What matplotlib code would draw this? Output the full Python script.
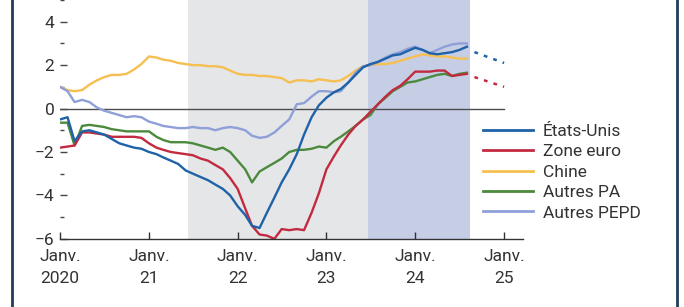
import numpy as np
import pandas as pd
import matplotlib
matplotlib.use("Agg")
import matplotlib.pyplot as plt
from matplotlib.lines import Line2D

plt.rcParams["font.family"] = ["Noto Sans Condensed", "Liberation Sans Narrow", "Roboto", "DejaVu Sans"]
plt.rcParams["font.stretch"] = "condensed"

# monthly data, Jan 2020 - Aug 2024
months = pd.date_range("2020-01-01", periods=56, freq="MS")

etats_unis = [-0.5, -0.4, -1.5, -1.05, -1.0, -1.1, -1.2, -1.4, -1.6, -1.7, -1.8, -1.85,
              -2.0, -2.1, -2.25, -2.4, -2.55, -2.85, -3.0, -3.15, -3.3, -3.5, -3.7, -4.0,
              -4.5, -4.9, -5.4, -5.5, -4.8, -4.1, -3.4, -2.8, -2.1, -1.2, -0.4, 0.15,
              0.5, 0.75, 0.9, 1.2, 1.55, 1.9, 2.05, 2.15, 2.3, 2.45, 2.5, 2.65,
              2.8, 2.7, 2.55, 2.5, 2.55, 2.6, 2.7, 2.85]
zone_euro = [-1.8, -1.75, -1.7, -1.1, -1.1, -1.15, -1.2, -1.3, -1.3, -1.3, -1.3, -1.35,
             -1.6, -1.8, -1.9, -2.0, -2.05, -2.1, -2.15, -2.3, -2.4, -2.6, -2.8, -3.2,
             -3.7, -4.6, -5.4, -5.8, -5.85, -6.0, -5.55, -5.6, -5.55, -5.6, -4.8, -3.9,
             -2.8, -2.2, -1.7, -1.2, -0.8, -0.5, -0.15, 0.2, 0.55, 0.85, 1.05, 1.35,
             1.7, 1.7, 1.7, 1.75, 1.75, 1.5, 1.55, 1.6]
chine = [1.0, 0.85, 0.8, 0.85, 1.1, 1.3, 1.45, 1.55, 1.55, 1.6, 1.8, 2.05,
         2.4, 2.35, 2.25, 2.2, 2.1, 2.05, 2.0, 2.0, 1.95, 1.95, 1.9, 1.75,
         1.6, 1.55, 1.55, 1.5, 1.5, 1.45, 1.4, 1.2, 1.3, 1.3, 1.25, 1.35,
         1.3, 1.25, 1.3, 1.5, 1.75, 1.95, 2.0, 2.05, 2.05, 2.1, 2.2, 2.3,
         2.4, 2.5, 2.45, 2.4, 2.4, 2.35, 2.3, 2.3]
autres_pa = [-0.65, -0.65, -1.7, -0.8, -0.75, -0.8, -0.85, -0.95, -1.0, -1.05, -1.05, -1.05,
             -1.05, -1.3, -1.45, -1.55, -1.55, -1.55, -1.6, -1.7, -1.8, -1.9, -1.8, -2.0,
             -2.4, -2.8, -3.4, -2.9, -2.7, -2.5, -2.3, -2.0, -1.9, -1.9, -1.85, -1.75,
             -1.8, -1.5, -1.3, -1.05, -0.8, -0.5, -0.3, 0.2, 0.5, 0.8, 1.0, 1.2,
             1.25, 1.35, 1.45, 1.55, 1.6, 1.5, 1.6, 1.65]
autres_pepd = [1.0, 0.8, 0.3, 0.4, 0.3, 0.05, -0.1, -0.2, -0.3, -0.4, -0.35, -0.4,
               -0.6, -0.7, -0.8, -0.85, -0.9, -0.9, -0.85, -0.9, -0.9, -1.0, -0.9, -0.85,
               -0.9, -1.0, -1.25, -1.35, -1.3, -1.1, -0.8, -0.5, 0.2, 0.25, 0.55, 0.8,
               0.8, 0.75, 0.8, 1.2, 1.65, 1.95, 2.0, 2.15, 2.35, 2.5, 2.6, 2.75,
               2.85, 2.7, 2.55, 2.7, 2.85, 2.95, 3.0, 3.0]

# projections
proj_dates = pd.to_datetime(["2024-09-01", "2025-01-01"])
proj_us = [2.6, 2.1]
proj_euro = [1.45, 1.0]

c_us = "#1f62a8"
c_eu = "#c22a40"
c_cn = "#f6bf52"
c_pa = "#4b8a3c"
c_pepd = "#8f9fd8"

fig = plt.figure(figsize=(6.84, 3.07), dpi=100)
ax = fig.add_axes([0.0877, 0.222, 0.677, 0.778])

# shaded periods
ax.axvspan(pd.Timestamp("2021-06-10"), pd.Timestamp("2023-06-20"), color="#e5e6e8", lw=0)
ax.axvspan(pd.Timestamp("2023-06-20"), pd.Timestamp("2024-08-15"), color="#c6cee6", lw=0)

ax.plot([pd.Timestamp("2020-01-01"), pd.Timestamp("2025-01-01")], [0, 0],
        color="#4d4d4d", lw=1.0)

ax.plot(months, chine, color=c_cn, lw=1.7, label="Chine")
ax.plot(months, autres_pepd, color=c_pepd, lw=1.7, label="Autres PEPD")
ax.plot(months, autres_pa, color=c_pa, lw=1.7, label="Autres PA")
ax.plot(months, zone_euro, color=c_eu, lw=1.7, label="Zone euro")
ax.plot(months, etats_unis, color=c_us, lw=1.7, label="États-Unis")

ax.plot(proj_dates, proj_us, color=c_us, lw=1.8, ls=(0, (1.5, 2.5)))
ax.plot(proj_dates, proj_euro, color=c_eu, lw=1.8, ls=(0, (1.5, 2.5)))

ax.set_xlim(pd.Timestamp("2020-01-01"), pd.Timestamp("2025-03-20"))
ax.set_ylim(-6, 5.0)

for s in ["top", "right", "left"]:
    ax.spines[s].set_visible(False)
ax.spines["bottom"].set_color("#333333")
ax.spines["bottom"].set_linewidth(1.0)

ax.set_yticks([-6, -4, -2, 0, 2, 4])
ax.set_yticklabels(["\u22126", "\u22124", "\u22122", "0", "2", "4"])
ax.set_yticks([-5, -3, -1, 1, 3, 5], minor=True)
ax.tick_params(axis="y", which="major", direction="in", length=5, width=1,
               color="#444444", labelsize=12.5, pad=4, labelcolor="#333333")
ax.tick_params(axis="y", which="minor", direction="in", length=3, width=1,
               color="#444444")

years = pd.to_datetime(["2020-01-01", "2021-01-01", "2022-01-01", "2023-01-01",
                        "2024-01-01", "2025-01-01"])
ax.set_xticks(years)
ax.set_xticklabels(["Janv.\n2020", "Janv.\n21", "Janv.\n22", "Janv.\n23",
                    "Janv.\n24", "Janv.\n25"], linespacing=1.6)
ax.xaxis.set_minor_locator(plt.NullLocator())
ax.tick_params(axis="x", direction="in", length=5, width=1, color="#333333",
               labelsize=12.5, pad=7, labelcolor="#333333")

handles, labels = ax.get_legend_handles_labels()
order = ["États-Unis", "Zone euro", "Chine", "Autres PA", "Autres PEPD"]
hmap = dict(zip(labels, handles))
leg = ax.legend([hmap[k] for k in order], order, loc="upper left",
                bbox_to_anchor=(0.898, 0.51), frameon=False, fontsize=12.5,
                handlelength=2.9, handletextpad=0.55, labelspacing=0.3,
                borderaxespad=0)
for t in leg.get_texts():
    t.set_color("#333333")
for h in leg.get_lines():
    h.set_linewidth(2.0)

# frame lines of the panel
fig.add_artist(Line2D([12 / 684, 12 / 684], [0, 1], color="#1f3d5e", lw=2))
fig.add_artist(Line2D([677 / 684, 677 / 684], [0, 1], color="#1f3d5e", lw=2))

fig.savefig("out.png", dpi=100)
